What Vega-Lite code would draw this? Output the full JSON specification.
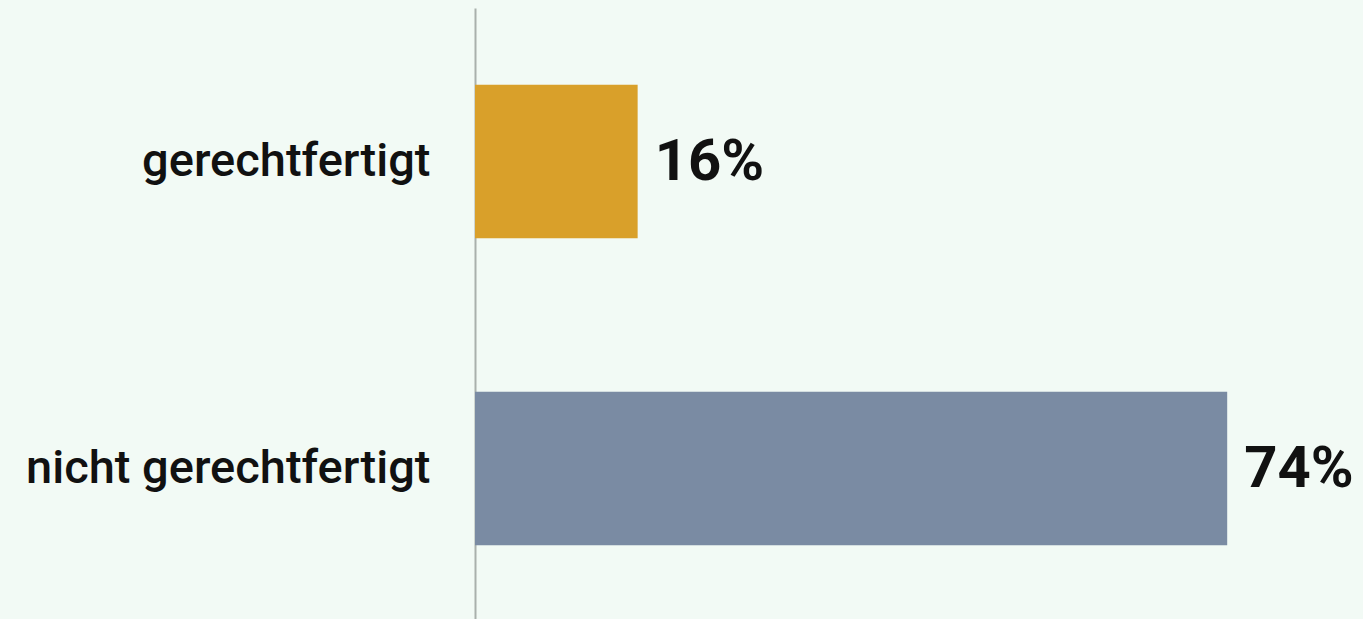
{
  "$schema": "https://vega.github.io/schema/vega-lite/v6.json",
  "autosize": "none",
  "padding": {"left": 475, "top": 8, "right": 0, "bottom": 0},
  "width": 888,
  "height": 614,
  "background": "#f2faf5",
  "config": {"view": {"stroke": null}},
  "data": {"values": [
    {"cat": "gerechtfertigt", "pct": 16, "label": "16%"},
    {"cat": "nicht gerechtfertigt", "pct": 74, "label": "74%"}
  ]},
  "encoding": {
    "y": {"field": "cat", "type": "nominal", "sort": null,
      "scale": {"paddingInner": 0.5, "paddingOuter": 0.25},
      "axis": {"title": null, "ticks": false, "domainColor": "#a9b0ac", "domainWidth": 2,
        "labelPadding": 45, "labelFont": "Roboto", "labelFontSize": 47,
        "labelFontWeight": 500, "labelColor": "#111111", "labelLimit": 600}},
    "x": {"field": "pct", "type": "quantitative", "scale": {"domain": [0, 87.36], "nice": false}, "axis": null}
  },
  "layer": [
    {"mark": {"type": "bar"},
     "encoding": {"color": {"field": "cat", "type": "nominal", "legend": null,
       "scale": {"domain": ["gerechtfertigt", "nicht gerechtfertigt"], "range": ["#d9a02a", "#7a8ba3"]}}}},
    {"mark": {"type": "text", "align": "left", "baseline": "middle", "dx": 17, "dy": 1, "font": "Roboto", "fontSize": 58, "fontWeight": "bold", "color": "#111111"},
     "encoding": {"text": {"field": "label"}}}
  ]
}
